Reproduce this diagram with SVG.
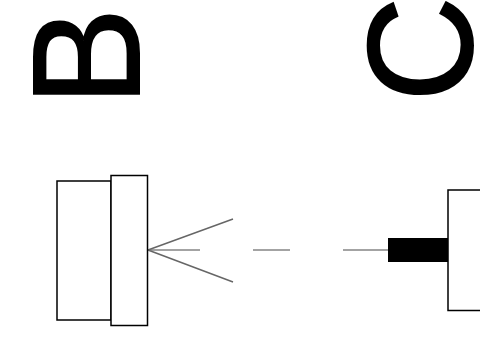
<svg xmlns="http://www.w3.org/2000/svg" width="480" height="361" viewBox="0 0 480 361">
<style>
.l{font-family:"Liberation Sans",Arial,sans-serif;fill:#000;stroke:#000;stroke-width:2}
.b{fill:#fff;stroke:#000;stroke-width:1.5}
.w{stroke:#666;stroke-width:1.5;fill:none}
</style>
<rect width="480" height="361" fill="#fff"/>
<g id="label-b"><text class="l" font-size="152" transform="translate(139 106) rotate(-90) scale(0.97 1)" x="0" y="0">B</text></g>
<g id="label-c"><text class="l" font-size="148" transform="translate(472 101.500) rotate(-90) scale(0.98 1)" x="0" y="0">C</text></g>
<g id="connectors">
<path class="w" d="M148 250L233 219M148 250L233 282"/>
<path class="w" stroke-opacity="0.8" d="M148 250H200M253 250H290M343 250H388"/>
</g>
<g id="node-left">
<rect class="b" x="57" y="181" width="54" height="139"/>
<rect class="b" x="111" y="175.500" width="36.500" height="150"/>
</g>
<g id="node-right">
<rect x="388" y="238" width="60" height="24" fill="#000"/>
<rect class="b" x="448" y="190" width="40" height="120.500"/>
</g>
</svg>
